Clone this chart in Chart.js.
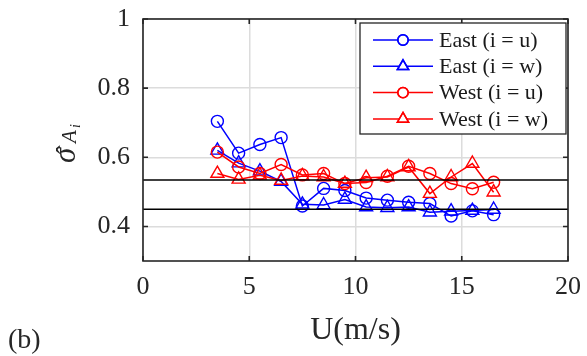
<!DOCTYPE html>
<html>
<head>
<meta charset="utf-8">
<script src="https://cdn.jsdelivr.net/npm/chart.js@4.4.0/dist/chart.umd.min.js"></script>
<style>
  html, body { margin: 0; padding: 0; background: #fff; }
  #wrap { width: 587px; height: 356px; position: relative; }
</style>
</head>
<body>
<div id="wrap"><canvas id="myChart" width="587" height="356"></canvas></div>
<script>
// wind speed bins (m/s)
const speeds = [3.5, 4.5, 5.5, 6.5, 7.5, 8.5, 9.5, 10.5, 11.5, 12.5, 13.5, 14.5, 15.5, 16.5];

// normalised std per station / component
const eastU = [0.704, 0.612, 0.637, 0.657, 0.459, 0.510, 0.504, 0.482, 0.476, 0.470, 0.466, 0.430, 0.445, 0.434];
const eastW = [0.620, 0.583, 0.560, 0.530, 0.464, 0.462, 0.478, 0.456, 0.454, 0.456, 0.441, 0.444, 0.446, 0.449];
const westU = [0.615, 0.572, 0.553, 0.579, 0.549, 0.553, 0.524, 0.527, 0.545, 0.574, 0.553, 0.524, 0.509, 0.528];
const westW = [0.553, 0.536, 0.548, 0.533, 0.546, 0.543, 0.524, 0.541, 0.543, 0.572, 0.495, 0.543, 0.582, 0.499];

// reference levels
const refLevels = [0.534, 0.450];
const xRange = [0, 20];

const xTicks = [0, 5, 10, 15, 20];
const yTicks = [0.4, 0.6, 0.8, 1];
const yTickLabels = ['0.4', '0.6', '0.8', '1'];

const seriesNames = ['East (i = u)', 'East (i = w)', 'West (i = u)', 'West (i = w)'];

const serif = "'Liberation Serif', 'Times New Roman', serif";
const axisColor = '#262626';

function pts(values) {
  return values.map((v, i) => ({ x: speeds[i], y: v }));
}

function series(label, values, color, marker, order) {
  return {
    label: label,
    data: pts(values),
    borderColor: color,
    backgroundColor: 'rgba(0,0,0,0)',
    borderWidth: 1.5,
    pointStyle: marker,
    pointRadius: marker === 'triangle' ? 7.5 : 6,
    pointBorderWidth: 1.4,
    pointBorderColor: color,
    pointBackgroundColor: 'rgba(0,0,0,0)',
    tension: 0,
    order: order
  };
}

const datasets = [
  series(seriesNames[0], eastU, '#0000ff', 'circle', 5),
  series(seriesNames[1], eastW, '#0000ff', 'triangle', 4),
  series(seriesNames[2], westU, '#ff0000', 'circle', 3),
  series(seriesNames[3], westW, '#ff0000', 'triangle', 2)
];

refLevels.forEach((lvl) => {
  datasets.push({
    label: '',
    data: xRange.map((x) => ({ x: x, y: lvl })),
    borderColor: '#000',
    borderWidth: 1.5,
    pointRadius: 0,
    order: 1,
    isRef: true
  });
});

// box, inward ticks, legend, y label and panel tag
const decorations = {
  id: 'decorations',
  afterDatasetsDraw(chart) {
    const ctx = chart.ctx;
    const a = chart.chartArea;
    const xs = chart.scales.x;
    const ys = chart.scales.y;

    ctx.save();
    ctx.strokeStyle = axisColor;
    ctx.lineWidth = 1.6;
    ctx.strokeRect(a.left, a.top, a.right - a.left, a.bottom - a.top);

    const tl = 5;
    ctx.beginPath();
    xTicks.forEach((t) => {
      const px = xs.getPixelForValue(t);
      ctx.moveTo(px, a.bottom); ctx.lineTo(px, a.bottom - tl);
      ctx.moveTo(px, a.top); ctx.lineTo(px, a.top + tl);
    });
    yTicks.forEach((t) => {
      const py = ys.getPixelForValue(t);
      ctx.moveTo(a.left, py); ctx.lineTo(a.left + tl, py);
      ctx.moveTo(a.right, py); ctx.lineTo(a.right - tl, py);
    });
    ctx.stroke();

    // legend
    const lx = 360, ly = 23, lw = 206, lh = 111;
    ctx.fillStyle = '#fff';
    ctx.fillRect(lx, ly, lw, lh);
    ctx.strokeStyle = axisColor;
    ctx.lineWidth = 1.3;
    ctx.strokeRect(lx, ly, lw, lh);
    ctx.font = '22px ' + serif;
    ctx.textBaseline = 'middle';
    ctx.textAlign = 'left';
    datasets.filter((d) => !d.isRef).forEach((d, i) => {
      const y = 40 + i * 26.3;
      ctx.strokeStyle = d.borderColor;
      ctx.lineWidth = 1.5;
      ctx.beginPath();
      ctx.moveTo(373, y); ctx.lineTo(433, y);
      ctx.stroke();
      ctx.fillStyle = '#fff';
      Chart.helpers.drawPoint(ctx, { pointStyle: d.pointStyle, radius: d.pointStyle === 'triangle' ? 6.5 : 5.2, borderWidth: 1.4 }, 403, y);
      ctx.stroke();
      ctx.fillStyle = '#1a1a1a';
      ctx.fillText(d.label, 439, y + 1);
    });

    // y-axis label: sigma hat, subscript A_i
    ctx.fillStyle = axisColor;
    ctx.translate(75, 163);
    ctx.rotate(-Math.PI / 2);
    ctx.textBaseline = 'alphabetic';
    ctx.font = 'italic 31px ' + serif;
    ctx.fillText('σ', 0, 0);
    ctx.font = '26px ' + serif;
    ctx.fillText('ˆ', 9, -1);
    ctx.font = 'italic 21px ' + serif;
    ctx.fillText('A', 20, 1);
    ctx.font = 'italic 14px ' + serif;
    ctx.fillText('i', 35, 5);
    ctx.restore();

    ctx.save();
    ctx.fillStyle = axisColor;
    ctx.font = '28px ' + serif;
    ctx.textBaseline = 'alphabetic';
    ctx.fillText('(b)', 8, 348);
    ctx.restore();
  }
};

const config = {
  type: 'line',
  data: { datasets: datasets },
  options: {
    responsive: false,
    animation: false,
    layout: { padding: { top: 19, right: 19, left: 0, bottom: 0 } },
    plugins: { legend: { display: false }, tooltip: { enabled: false } },
    scales: {
      x: {
        type: 'linear',
        min: 0,
        max: 20,
        afterBuildTicks: (s) => { s.ticks = xTicks.map((v) => ({ value: v })); },
        afterFit: (s) => { s.height = 95; s.paddingLeft = 0; s.paddingRight = 0; },
        grid: { color: '#dcdcdc', lineWidth: 1.5, drawTicks: false },
        border: { display: false },
        ticks: { color: axisColor, font: { family: serif, size: 26 }, padding: 11, maxRotation: 0, callback: (v) => String(v) },
        title: { display: true, text: 'U(m/s)', color: axisColor, font: { family: serif, size: 32 }, padding: { top: 0, bottom: 6 } }
      },
      y: {
        type: 'linear',
        min: 0.3,
        max: 1,
        afterBuildTicks: (s) => { s.ticks = yTicks.map((v) => ({ value: v })); },
        afterFit: (s) => { s.width = 143; s.paddingTop = 0; s.paddingBottom = 0; },
        grid: { color: '#dcdcdc', lineWidth: 1.5, drawTicks: false },
        border: { display: false },
        ticks: { color: axisColor, font: { family: serif, size: 26 }, padding: 13, callback: (v) => yTickLabels[yTicks.indexOf(v)] }
      }
    }
  },
  plugins: [decorations]
};

const context = document.getElementById('myChart').getContext('2d');
const chart = new Chart(context, config);
</script>
</body>
</html>
